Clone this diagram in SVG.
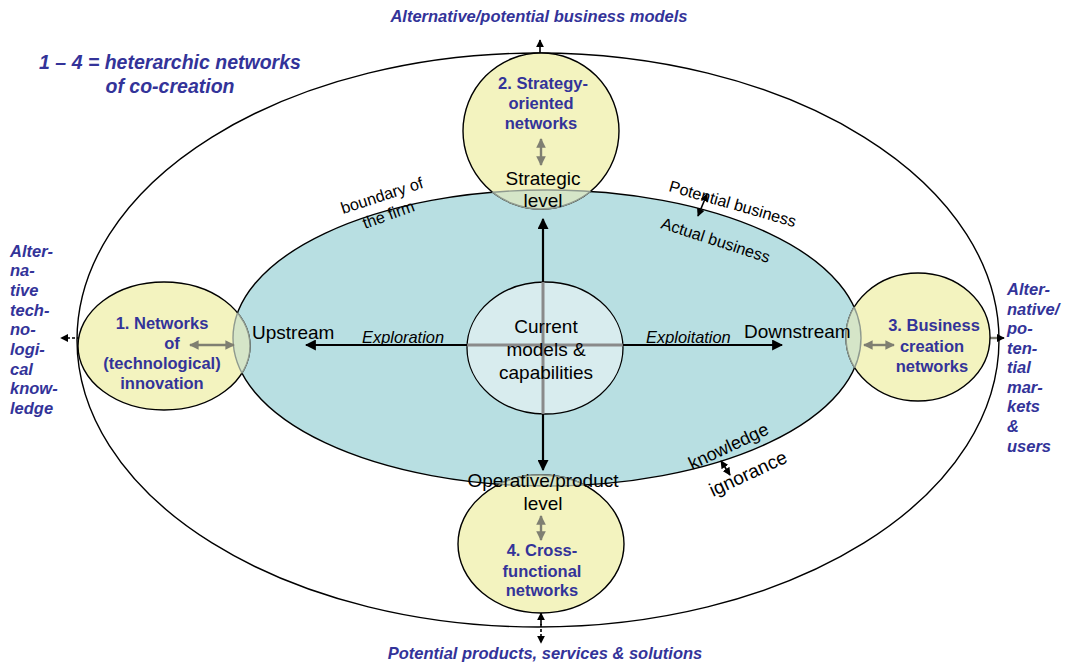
<svg xmlns="http://www.w3.org/2000/svg" width="1072" height="662" viewBox="0 0 1072 662">
  <style>
    .t { font-family: "Liberation Sans", Arial, sans-serif; fill: #000; }
    .lbl { font-size: 19px; }
    .it { font-style: italic; font-size: 16.4px; }
    .bd { font-size: 16.2px; }
    .net { font-family: "Liberation Sans", Arial, sans-serif; font-weight: bold; font-size: 16.5px; fill: #333399; }
    .side { font-family: "Liberation Sans", Arial, sans-serif; font-weight: bold; font-style: italic; font-size: 16.5px; fill: #333399; }
    .title { font-family: "Liberation Sans", Arial, sans-serif; font-weight: bold; font-style: italic; font-size: 19.5px; fill: #333399; }
    .yellow { fill: #f3f3bf; stroke: #000; stroke-width: 1.4; }
    .axis { stroke: #000; stroke-width: 2.2; fill: none; }
    .grey { stroke: #7f7f72; stroke-width: 2.4; fill: none; }
    .blk { stroke: #000; stroke-width: 1.6; fill: none; }
  </style>
  <defs>
    <marker id="ah" viewBox="0 0 10 10" refX="9" refY="5" markerWidth="5" markerHeight="5" orient="auto-start-reverse">
      <path d="M0,0 L10,5 L0,10 z" fill="#000"/>
    </marker>
    <marker id="ahg" viewBox="0 0 10 10" refX="9" refY="5" markerWidth="4" markerHeight="4" orient="auto-start-reverse">
      <path d="M0,0 L10,5 L0,10 z" fill="#7f7f72"/>
    </marker>
    <clipPath id="firmClip"><ellipse cx="547" cy="338" rx="314" ry="148"/></clipPath>
    <clipPath id="c1Clip"><ellipse cx="164" cy="346" rx="86" ry="64"/></clipPath>
    <clipPath id="c2Clip"><ellipse cx="541" cy="131" rx="78" ry="78"/></clipPath>
    <clipPath id="c3Clip"><ellipse cx="918" cy="337" rx="72" ry="64"/></clipPath>
    <clipPath id="c4Clip"><ellipse cx="541" cy="544" rx="83" ry="69"/></clipPath>
    <clipPath id="coreClip"><ellipse cx="545" cy="348" rx="78" ry="66"/></clipPath>
  </defs>

  <!-- outer field -->
  <ellipse id="outer" cx="538" cy="340" rx="461" ry="287" fill="none" stroke="#000" stroke-width="1.4"/>

  <!-- boundary of the firm -->
  <g id="firm">
    <ellipse cx="547" cy="338" rx="314" ry="148" fill="#b8dfe2" stroke="#000" stroke-width="1.4"/>
  </g>

  <!-- axes -->
  <g id="connectors">
    <line class="axis" x1="543" y1="470" x2="543" y2="219" marker-end="url(#ah)" marker-start="url(#ah)"/>
    <line class="axis" x1="306" y1="345" x2="782" y2="345" marker-end="url(#ah)" marker-start="url(#ah)"/>
    <!-- outward arrows -->
    <line class="blk" x1="540" y1="58" x2="540" y2="40" marker-end="url(#ah)"/>
    <line class="grey" x1="540" y1="55" x2="540" y2="70" marker-end="url(#ahg)" stroke-width="2"/>
    <line class="blk" x1="80" y1="338" x2="61" y2="338" stroke-dasharray="3,2" marker-end="url(#ah)"/>
    <line class="grey" x1="78" y1="338" x2="92" y2="338" marker-end="url(#ahg)" stroke-width="2"/>
    <line class="blk" x1="996" y1="338" x2="1004" y2="338" marker-end="url(#ah)"/>
    <line class="grey" x1="997" y1="338" x2="980" y2="338" marker-end="url(#ahg)" stroke-width="2"/>
    <line class="blk" x1="541" y1="625" x2="541" y2="613" marker-end="url(#ah)"/>
    <line class="blk" x1="541" y1="624" x2="541" y2="643" stroke-dasharray="3,2" marker-end="url(#ah)"/>
    <!-- boundary arrows -->
    <line class="blk" x1="698" y1="216" x2="707" y2="194" marker-end="url(#ah)" marker-start="url(#ah)" stroke-width="2"/>
    <line class="blk" x1="721" y1="461" x2="730" y2="475" marker-end="url(#ah)" marker-start="url(#ah)" stroke-width="2"/>
  </g>

  <!-- 1. Networks of (technological) innovation -->
  <g id="net1">
    <ellipse class="yellow" cx="164" cy="346" rx="86" ry="64"/>
    <g clip-path="url(#firmClip)">
      <ellipse cx="164" cy="346" rx="86" ry="64" fill="#d5e5c8" stroke="#8f9a8f" stroke-width="1.4"/>
    </g>
    <ellipse clip-path="url(#c1Clip)" cx="547" cy="338" rx="314" ry="148" fill="none" stroke="#8f9a8f" stroke-width="1.4"/>
    <line class="grey" x1="190" y1="345" x2="234" y2="345" marker-end="url(#ahg)" marker-start="url(#ahg)"/>
    <text class="net" text-anchor="middle" x="162" y="329">1. Networks</text>
    <text class="net" text-anchor="middle" x="172" y="349">of</text>
    <text class="net" text-anchor="middle" x="162" y="369">(technological)</text>
    <text class="net" text-anchor="middle" x="162" y="389">innovation</text>
  </g>

  <!-- 2. Strategy-oriented networks -->
  <g id="net2">
    <ellipse class="yellow" cx="541" cy="131" rx="78" ry="78"/>
    <g clip-path="url(#firmClip)">
      <ellipse cx="541" cy="131" rx="78" ry="78" fill="#d5e5c8" stroke="#8f9a8f" stroke-width="1.4"/>
    </g>
    <ellipse clip-path="url(#c2Clip)" cx="547" cy="338" rx="314" ry="148" fill="none" stroke="#8f9a8f" stroke-width="1.4"/>
    <line class="grey" x1="541" y1="139" x2="541" y2="165" marker-end="url(#ahg)" marker-start="url(#ahg)"/>
    <text class="net" text-anchor="middle" x="543" y="89">2. Strategy-</text>
    <text class="net" text-anchor="middle" x="541" y="109">oriented</text>
    <text class="net" text-anchor="middle" x="541" y="129">networks</text>
    <text class="t lbl" text-anchor="middle" x="543" y="185">Strategic</text>
    <text class="t lbl" text-anchor="middle" x="543" y="207">level</text>
  </g>

  <!-- 3. Business creation networks -->
  <g id="net3">
    <ellipse class="yellow" cx="918" cy="337" rx="72" ry="64"/>
    <g clip-path="url(#firmClip)">
      <ellipse cx="918" cy="337" rx="72" ry="64" fill="#d5e5c8" stroke="#8f9a8f" stroke-width="1.4"/>
    </g>
    <ellipse clip-path="url(#c3Clip)" cx="547" cy="338" rx="314" ry="148" fill="none" stroke="#8f9a8f" stroke-width="1.4"/>
    <line class="grey" x1="864" y1="345" x2="894" y2="345" marker-end="url(#ahg)" marker-start="url(#ahg)"/>
    <text class="net" text-anchor="middle" x="934" y="331">3. Business</text>
    <text class="net" text-anchor="middle" x="932" y="352">creation</text>
    <text class="net" text-anchor="middle" x="932" y="372">networks</text>
  </g>

  <!-- 4. Cross-functional networks -->
  <g id="net4">
    <ellipse class="yellow" cx="541" cy="544" rx="83" ry="69"/>
    <g clip-path="url(#firmClip)">
      <ellipse cx="541" cy="544" rx="83" ry="69" fill="#d5e5c8" stroke="#8f9a8f" stroke-width="1.4"/>
    </g>
    <ellipse clip-path="url(#c4Clip)" cx="547" cy="338" rx="314" ry="148" fill="none" stroke="#8f9a8f" stroke-width="1.4"/>
    <line class="grey" x1="541" y1="516" x2="541" y2="540" marker-end="url(#ahg)" marker-start="url(#ahg)"/>
    <text class="t lbl" text-anchor="middle" x="543" y="487">Operative/product</text>
    <text class="t lbl" text-anchor="middle" x="543" y="510">level</text>
    <text class="net" text-anchor="middle" x="542" y="556">4. Cross-</text>
    <text class="net" text-anchor="middle" x="542" y="577">functional</text>
    <text class="net" text-anchor="middle" x="542" y="596">networks</text>
  </g>

  <!-- current models & capabilities -->
  <g id="core">
    <ellipse cx="545" cy="348" rx="78" ry="66" fill="#d8ecee" stroke="#000" stroke-width="1.3"/>
    <g clip-path="url(#coreClip)">
      <line x1="543" y1="280" x2="543" y2="416" stroke="#8a8a8a" stroke-width="3"/>
      <line x1="465" y1="345" x2="625" y2="345" stroke="#8a8a8a" stroke-width="3"/>
    </g>
    <text class="t lbl" text-anchor="middle" x="546" y="333">Current</text>
    <text class="t lbl" text-anchor="middle" x="546" y="356">models &amp;</text>
    <text class="t lbl" text-anchor="middle" x="546" y="379">capabilities</text>
  </g>

  <!-- axis labels -->
  <g id="axis-labels">
    <text class="t lbl" x="252" y="339">Upstream</text>
    <text class="t it" x="362" y="343">Exploration</text>
    <text class="t it" x="646" y="343">Exploitation</text>
    <text class="t lbl" x="744" y="338">Downstream</text>
  </g>

  <!-- boundary labels -->
  <g id="boundary-labels">
    <text class="t bd" transform="translate(343,214) rotate(-18)">boundary of</text>
    <text class="t bd" transform="translate(365,229) rotate(-20)">the firm</text>
    <text class="t bd" transform="translate(668,191) rotate(16)">Potential business</text>
    <text class="t bd" transform="translate(660,228) rotate(18)">Actual business</text>
    <text class="t" font-size="18" transform="translate(692,470) rotate(-25)">knowledge</text>
    <text class="t" font-size="19" transform="translate(713,497) rotate(-25)">ignorance</text>
  </g>

  <!-- surrounding labels -->
  <g id="outer-labels">
    <text class="side" text-anchor="middle" x="539" y="22">Alternative/potential business models</text>
    <text class="side" text-anchor="middle" x="545" y="659">Potential products, services &amp; solutions</text>
    <text class="title" text-anchor="middle" x="170" y="69">1 – 4 = heterarchic networks</text>
    <text class="title" text-anchor="middle" x="170" y="93">of co-creation</text>
    <text class="side" x="10">
      <tspan x="10" y="257">Alter-</tspan>
      <tspan x="10" y="276">na-</tspan>
      <tspan x="10" y="296">tive</tspan>
      <tspan x="10" y="316">tech-</tspan>
      <tspan x="10" y="335">no-</tspan>
      <tspan x="10" y="355">logi-</tspan>
      <tspan x="10" y="375">cal</tspan>
      <tspan x="10" y="394">know-</tspan>
      <tspan x="10" y="414">ledge</tspan>
    </text>
    <text class="side" x="1007">
      <tspan x="1007" y="295">Alter-</tspan>
      <tspan x="1007" y="315">native/</tspan>
      <tspan x="1007" y="334">po-</tspan>
      <tspan x="1007" y="354">ten-</tspan>
      <tspan x="1007" y="373">tial</tspan>
      <tspan x="1007" y="393">mar-</tspan>
      <tspan x="1007" y="412">kets</tspan>
      <tspan x="1007" y="432">&amp;</tspan>
      <tspan x="1007" y="452">users</tspan>
    </text>
  </g>
</svg>
